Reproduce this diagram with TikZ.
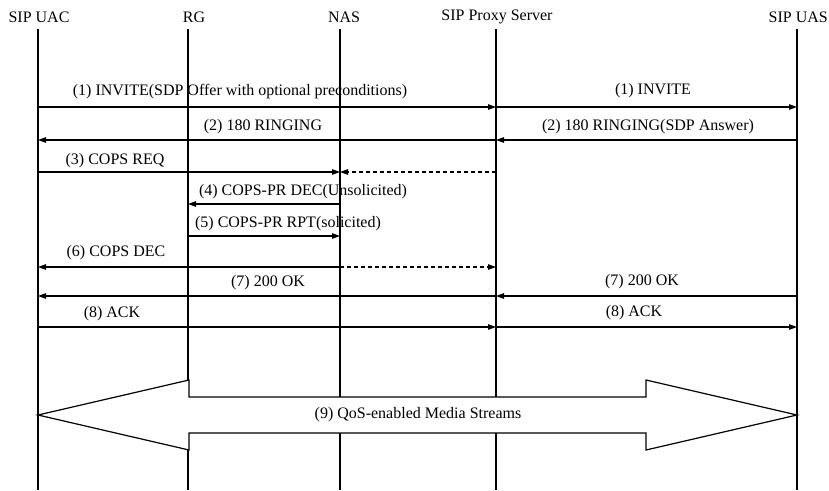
\documentclass[tikz,border=0pt]{standalone}
\usepackage{fontspec}
\setmainfont{Liberation Serif}
\usetikzlibrary{arrows.meta}
\begin{document}
\begin{tikzpicture}[x=1pt,y=-1pt,
  life/.style={line width=2pt},
  msg/.style={line width=1.1pt,-{Triangle[length=8pt,width=5.5pt]}},
  dmsg/.style={msg,dash pattern=on 4pt off 3pt},
  lbl/.style={inner sep=0pt,font=\fontsize{16}{19}\selectfont},
  blockarrow/.style={line width=1.2pt,fill=white,line join=miter}]
\useasboundingbox (0,0) rectangle (829,490);

% headers
\node[lbl] (huac) at (39,17) {SIP UAC};
\node[lbl] (hrg)  at (194,17) {RG};
\node[lbl] (hnas) at (344,17) {NAS};
\node[lbl] (hprx) at (497,17) {SIP Proxy Server};
\node[lbl,anchor=east] (huas) at (828,17) {SIP UAS};

% lifelines
\coordinate (uacT) at (38,29);  \coordinate (uacB) at (38,490);
\coordinate (rgT)  at (188,29); \coordinate (rgB)  at (188,490);
\coordinate (nasT) at (340,29); \coordinate (nasB) at (340,490);
\coordinate (prxT) at (496,29); \coordinate (prxB) at (496,490);
\coordinate (uasT) at (797,29); \coordinate (uasB) at (797,490);
\foreach \l in {uac,rg,nas,prx,uas} \draw[life] (\l T) -- (\l B);

% message rows
\coordinate (r1) at (0,107);
\coordinate (r2) at (0,140);
\coordinate (r3) at (0,172);
\coordinate (r4) at (0,204);
\coordinate (r5) at (0,236);
\coordinate (r6) at (0,267);
\coordinate (r7) at (0,296);
\coordinate (r8) at (0,327);

\draw[msg] (uacT |- r1) -- (prxT |- r1);
\draw[msg] (prxT |- r1) -- (uasT |- r1);
\node[lbl] (l1a) at (240,92) {(1) INVITE(SDP Offer with optional preconditions)};
\node[lbl] (l1b) at (653,91) {(1) INVITE};

\draw[msg] (prxT |- r2) -- (uacT |- r2);
\draw[msg] (uasT |- r2) -- (prxT |- r2);
\node[lbl] (l2a) at (263,127) {(2) 180 RINGING};
\node[lbl] (l2b) at (648,127) {(2) 180 RINGING(SDP Answer)};

\draw[msg] (uacT |- r3) -- (nasT |- r3);
\draw[dmsg] (prxT |- r3) -- (nasT |- r3);
\node[lbl] (l3) at (115,161) {(3) COPS REQ};

\draw[msg] (nasT |- r4) -- (rgT |- r4);
\node[lbl] (l4) at (303,192) {(4) COPS-PR DEC(Unsolicited)};

\draw[msg] (rgT |- r5) -- (nasT |- r5);
\node[lbl] (l5) at (288,224) {(5) COPS-PR RPT(solicited)};

\draw[msg] (nasT |- r6) -- (uacT |- r6);
\draw[dmsg] (nasT |- r6) -- (prxT |- r6);
\node[lbl] (l6) at (116,253) {(6) COPS DEC};

\draw[msg] (prxT |- r7) -- (uacT |- r7);
\draw[msg] (uasT |- r7) -- (prxT |- r7);
\node[lbl] (l7a) at (268,283) {(7) 200 OK};
\node[lbl] (l7b) at (642,282) {(7) 200 OK};

\draw[msg] (uacT |- r8) -- (prxT |- r8);
\draw[msg] (prxT |- r8) -- (uasT |- r8);
\node[lbl] (l8a) at (112,314) {(8) ACK};
\node[lbl] (l8b) at (634,313) {(8) ACK};

% media stream block arrow
\draw[blockarrow] (38,415) -- (189,380) -- (189,397) -- (646,397) -- (646,380)
  -- (797,415) -- (646,450) -- (646,433) -- (189,433) -- (189,450) -- cycle;
\node[lbl] (l9) at (418,415) {(9) QoS-enabled Media Streams};
\end{tikzpicture}
\end{document}
